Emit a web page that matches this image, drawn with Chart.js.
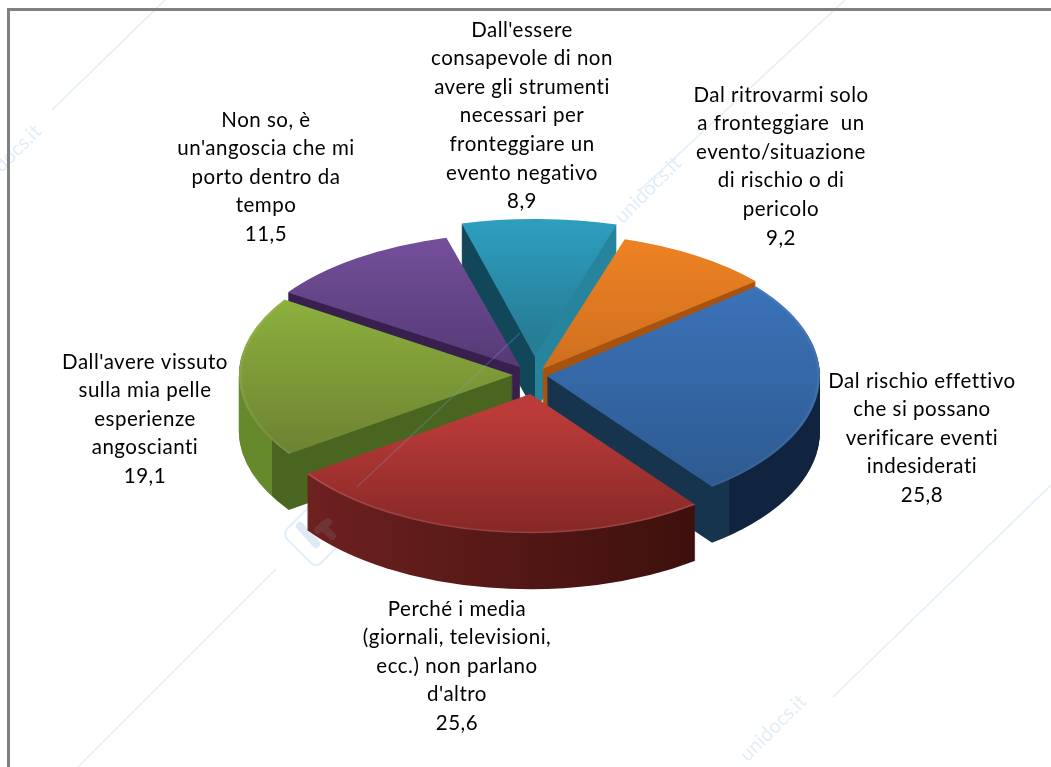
<!DOCTYPE html>
<html>
<head>
<meta charset="utf-8">
<style>html,body{margin:0;padding:0;background:#fff;overflow:hidden}canvas{display:block}</style>
<script src="https://cdn.jsdelivr.net/npm/chart.js@4"></script>
</head>
<body>
<canvas id="c" width="1051" height="767"></canvas>
<script>
const categories = [
  "Dal rischio effettivo\nche si possano\nverificare eventi\nindesiderati",
  "Perché i media\n(giornali, televisioni,\necc.) non parlano\nd'altro",
  "Dall'avere vissuto\nsulla mia pelle\nesperienze\nangoscianti",
  "Non so, è\nun'angoscia che mi\nporto dentro da\ntempo",
  "Dall'essere\nconsapevole di non\navere gli strumenti\nnecessari per\nfronteggiare un\nevento negativo",
  "Dal ritrovarmi solo\na fronteggiare  un\nevento/situazione\ndi rischio o di\npericolo"
];
const values = [25.8, 25.6, 19.1, 11.5, 8.9, 9.2];
const valueLabels = ["25,8", "25,6", "19,1", "11,5", "8,9", "9,2"];
const topLight = ["#3b72b8", "#bb3b39", "#8cb03c", "#76519d", "#2fa4c6", "#f08323"];
const topDark  = ["#2d5a90", "#7d2523", "#6d8232", "#563b78", "#267d96", "#cf701f"];
const sideLeft  = ["#17344f", "#6e2120", "#66892c", "#37204d", "#12475a", "#a7520f"];
const sideRight = ["#10233f", "#3e100d", "#4a651f", "#37204d", "#26859c", "#a7520f"];
const sideSplit = ["end", "none", "start", "none", "apex", "none"];
const explode = [68, 150, 68, 80, 160, 60];
const squash = [0.51, 0.51, 0.50, 0.48, 0.47, 0.485];
const shiftX = [0, 6, 0, 2, 4, 4];
const rimAlpha = [0.06, 0.12, 0.07, 0, 0, 0];
const drawOrder = [4, 3, 5, 2, 0, 1];
const labelCenterX = [922, 457, 145, 266, 522, 781];
const labelFirstLineY = [381, 609, 362, 120, 30, 95];

const DEPTH = 56, LINE_H = 28.6, FONT = '20.5px Lato, "Noto Sans", sans-serif', LETTER = '0.5px';

function geom(el, off) {
  const o = off / 4, fix = 1 - Math.sin(Math.min(Math.PI, el.circumference || 0));
  const mid = (el.startAngle + el.endAngle) / 2;
  return { ax: el.x + Math.cos(mid) * (o + fix), ay: el.y + Math.sin(mid) * (o + fix), r: el.outerRadius + o * fix };
}
const pie3d = {
  id: 'pie3d',
  beforeDatasetDraw(chart, args) {
    const ctx = chart.ctx, els = chart.getDatasetMeta(args.index).data;
    drawOrder.forEach(i => {
      const el = els[i], k = squash[i], cy = el.y, base = el.options, g = geom(el, explode[i]);
      const xs = [g.ax], ys = [g.ay];
      for (let j = 0; j <= 24; j++) {
        const a = el.startAngle + (el.endAngle - el.startAngle) * j / 24;
        xs.push(g.ax + Math.cos(a) * g.r); ys.push(g.ay + Math.sin(a) * g.r);
      }
      const xMin = Math.min(...xs), xMax = Math.max(...xs);
      const side = ctx.createLinearGradient(xMin, 0, xMax, 0);
      const split = sideSplit[i];
      if (split === 'none') {
        side.addColorStop(0, sideLeft[i]); side.addColorStop(1, sideRight[i]);
      } else {
        const sx = split === 'end' ? xs[25] : split === 'start' ? xs[1] : g.ax;
        const t = Math.min(1, Math.max(0, (sx - xMin) / (xMax - xMin)));
        side.addColorStop(0, sideLeft[i]); side.addColorStop(t, sideLeft[i]);
        side.addColorStop(t, sideRight[i]); side.addColorStop(1, sideRight[i]);
      }
      el.options = Object.assign({}, base, {backgroundColor: side, borderWidth: 0});
      for (let d = DEPTH; d >= 1; d--) {
        ctx.save();
        ctx.translate(shiftX[i], cy + d);
        ctx.scale(1, k);
        ctx.translate(0, -cy);
        el.draw(ctx);
        ctx.restore();
      }
      const top = ctx.createLinearGradient(0, Math.min(...ys), 0, Math.max(...ys));
      top.addColorStop(0, topLight[i]); top.addColorStop(1, topDark[i]);
      el.options = Object.assign({}, base, {backgroundColor: top, borderWidth: 0});
      ctx.save();
      ctx.translate(shiftX[i], cy);
      ctx.scale(1, k);
      ctx.translate(0, -cy);
      el.draw(ctx);
      if (rimAlpha[i] > 0) {
        ctx.strokeStyle = 'rgba(255,255,255,' + rimAlpha[i] + ')';
        ctx.lineWidth = 3;
        ctx.beginPath();
        ctx.arc(g.ax, g.ay, g.r - 1.5, el.startAngle, el.endAngle);
        ctx.stroke();
      }
      ctx.restore();
      el.options = base;
    });
    return false;
  },
  afterDatasetsDraw(chart) {
    const ctx = chart.ctx;
    ctx.save();
    ctx.strokeStyle = 'rgba(120,170,220,0.28)';
    ctx.lineWidth = 1.2;
    ctx.beginPath(); ctx.moveTo(357, 487); ctx.lineTo(520, 333); ctx.stroke();
    ctx.strokeStyle = 'rgba(150,170,200,0.14)';
    ctx.lineWidth = 8; ctx.lineCap = 'round';
    ctx.beginPath(); ctx.moveTo(318, 530); ctx.lineTo(328, 522); ctx.moveTo(322, 526); ctx.lineTo(332, 536); ctx.stroke();
    ctx.restore();
    ctx.save();
    ctx.fillStyle = '#000';
    ctx.font = FONT;
    ctx.letterSpacing = LETTER;
    ctx.textAlign = 'center';
    ctx.textBaseline = 'middle';
    categories.forEach((c, i) => {
      const lines = c.split('\n').concat(valueLabels[i]);
      lines.forEach((ln, j) => ctx.fillText(ln, labelCenterX[i], labelFirstLineY[i] + j * LINE_H));
    });
    ctx.restore();
  },
  beforeDraw(chart) {
    const ctx = chart.ctx;
    ctx.save();
    ctx.fillStyle = '#fff';
    ctx.fillRect(0, 0, chart.width, chart.height);
    ctx.strokeStyle = '#e2edf8';
    ctx.lineWidth = 1.4;
    [[52,110,165,0],[78,767,276,569],[833,697,1051,485],[845,0,640,190]].forEach(s => {
      ctx.beginPath(); ctx.moveTo(s[0], s[1]); ctx.lineTo(s[2], s[3]); ctx.stroke();
    });
    ctx.strokeStyle = '#e4eef8';
    ctx.lineWidth = 2;
    ctx.save();
    ctx.translate(316, 534); ctx.rotate(Math.PI / 4);
    ctx.beginPath(); ctx.roundRect(-24, -24, 48, 48, 7); ctx.stroke();
    ctx.restore();
    ctx.strokeStyle = '#deebf6'; ctx.lineWidth = 8; ctx.lineCap = 'round';
    ctx.beginPath(); ctx.moveTo(300, 526); ctx.lineTo(316, 544); ctx.stroke();
    ctx.fillStyle = '#e2edf8';
    ctx.font = '20px Lato, sans-serif';
    ctx.textAlign = 'center'; ctx.textBaseline = 'middle';
    [[8,158],[648,190],[773,728]].forEach(p => {
      ctx.save(); ctx.translate(p[0], p[1]); ctx.rotate(-Math.PI / 4);
      ctx.fillText('unidocs.it', 0, 0); ctx.restore();
    });
    ctx.fillStyle = '#808080';
    ctx.fillRect(7, 8, chart.width - 7, 3);
    ctx.fillRect(7, 8, 3, chart.height - 8);
    ctx.restore();
  }
};
new Chart(document.getElementById('c'), {
  type: 'pie',
  data: {
    labels: categories,
    datasets: [{ data: values, backgroundColor: topLight, offset: explode, borderWidth: 0, rotation: 50 }]
  },
  options: {
    responsive: false,
    animation: false,
    layout: { padding: { left: 9, right: 0, top: 22, bottom: 39 } },
    plugins: { legend: { display: false }, tooltip: { enabled: false } }
  },
  plugins: [pie3d]
});
</script>
</body>
</html>
